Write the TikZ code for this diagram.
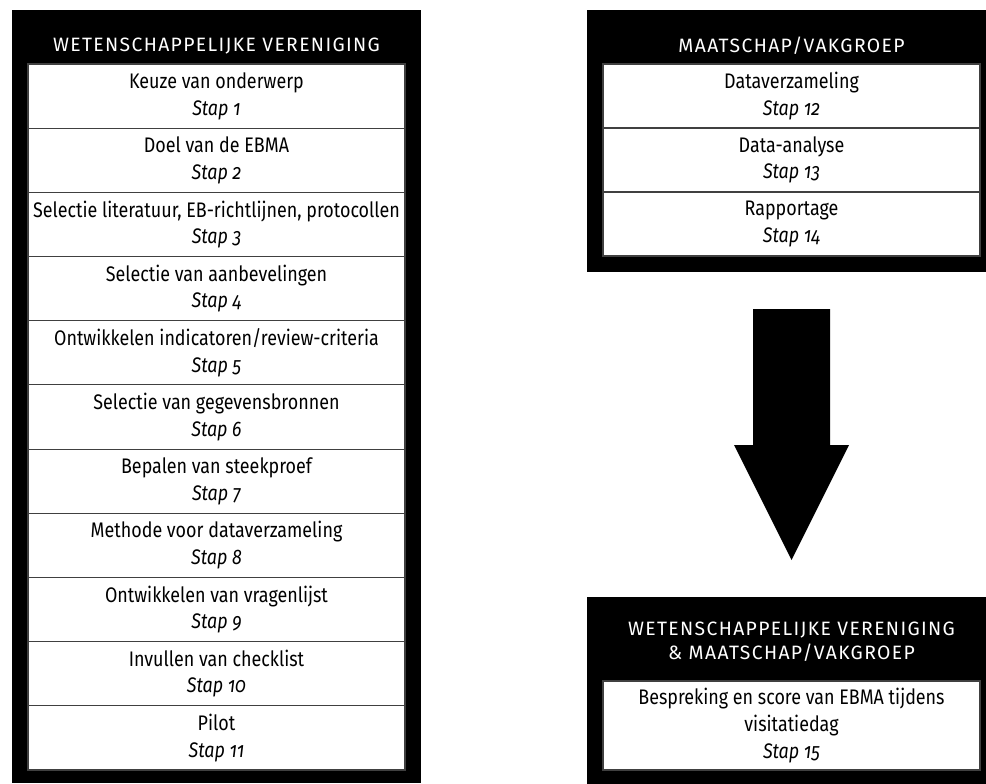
\documentclass[tikz,border=0pt]{standalone}
\usepackage{fontspec}
\setmainfont{Fira Sans}[Numbers=OldStyle,FakeStretch=0.85]
\newfontfamily\kopfont{Fira Sans}[LetterSpace=7]
\usetikzlibrary{positioning}

\begin{document}
\begin{tikzpicture}[
  x=0.75pt, y=-0.75pt,
  font=\fontsize{15.8}{20}\selectfont,
  panel/.style={fill=black, draw=none, minimum width=306.75pt, inner sep=0},
  kop/.style={text=white, align=center, inner sep=0,
    font=\kopfont\fontsize{14.5}{17.8}\selectfont},
  stapbox/.style={fill=white, draw=black!75, line width=0.8pt,
    minimum width=282.75pt, minimum height=48.15pt, align=center, inner sep=0},
  pijl/.style={fill=black}
]
\useasboundingbox (0,0) rectangle (986,783);

% zwarte panelen
\node[panel, minimum height=579.75pt] (wvpanel) at (216.5,396.5) {};
\node[panel, minimum height=196.5pt] (mvpanel) at (791.5,141) {};
\node[panel, minimum height=144.75pt] (sampanel) at (791.5,693.5) {};

% koppen
\node[kop] (wvkop) at (216.5,46) {WETENSCHAPPELIJKE VERENIGING};
\node[kop] (mvkop) at (791.5,46) {MAATSCHAP/VAKGROEP};
\node[kop] (samkop) at (791.5,642) {WETENSCHAPPELIJKE VERENIGING\\\& MAATSCHAP/VAKGROEP};

% stappen wetenschappelijke vereniging
\foreach \n/\titel in {
  1/{Keuze van onderwerp},
  2/{Doel van de EBMA},
  3/{Selectie literatuur, EB-richtlijnen, protocollen},
  4/{Selectie van aanbevelingen},
  5/{Ontwikkelen indicatoren/review-criteria},
  6/{Selectie van gegevensbronnen},
  7/{Bepalen van steekproef},
  8/{Methode voor dataverzameling},
  9/{Ontwikkelen van vragenlijst},
  10/{Invullen van checklist},
  11/{Pilot}}
  \node[stapbox] (stap\n) at (216.5,{64+64.18*(\n-0.5)}) {\titel\\\textit{Stap \n}};

% stappen maatschap/vakgroep
\foreach \n/\titel in {12/{Dataverzameling}, 13/{Data-analyse}, 14/{Rapportage}}
  \node[stapbox, minimum height=48pt] (stap\n) at (791.5,{64+64*(\n-11.5)}) {\titel\\\textit{Stap \n}};

\node[stapbox, minimum height=66.75pt] (stap15) at (791.5,725.5)
  {Bespreking en score van EBMA tijdens\\visitatiedag\\\textit{Stap 15}};

% pijl
\fill[pijl] (753,309) -- (830,309) -- (830,445) -- (849,445) -- (791.5,560)
  -- (734,445) -- (753,445) -- cycle;
\end{tikzpicture}
\end{document}
